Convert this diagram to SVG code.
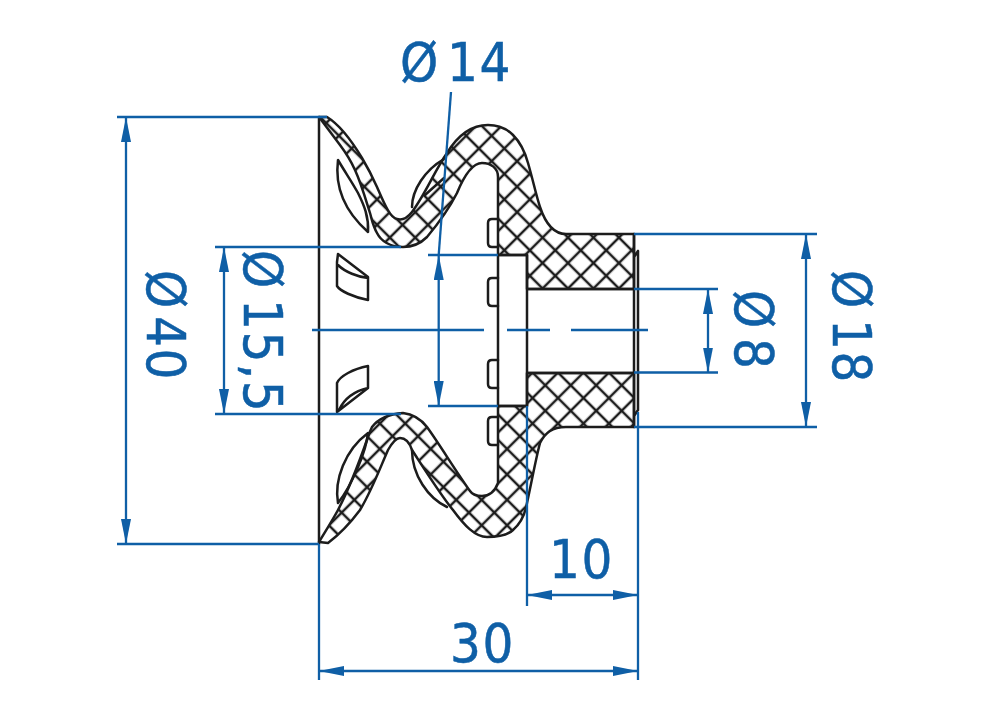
<svg xmlns="http://www.w3.org/2000/svg" width="1000" height="714" viewBox="0 0 1000 714">
<style>
.o{fill:none;stroke:#1c1c1c;stroke-width:2.5;stroke-linejoin:round;stroke-linecap:round}
.d{fill:none;stroke:#0f5fa6;stroke-width:2.300}
.a{fill:#0f5fa6;stroke:none}
.ht{fill:url(#hatch)}
.hb{fill:url(#hatch2)}
text{font-family:"DejaVu Sans Condensed","DejaVu Sans",sans-serif;font-stretch:condensed;font-size:54px;fill:#0f5fa6;stroke:#0f5fa6;stroke-width:.5;letter-spacing:1.500px}
</style>
<defs>
<pattern id="hatch" width="18" height="18" patternUnits="userSpaceOnUse" patternTransform="translate(568 250.300) rotate(45)">
<path d="M0 9H18M9 0V18" stroke="#1c1c1c" stroke-width="2.500" fill="none"/>
</pattern>
<pattern id="hatch2" width="18" height="18" patternUnits="userSpaceOnUse" patternTransform="translate(558 385.300) rotate(45)">
<path d="M0 9H18M9 0V18" stroke="#1c1c1c" stroke-width="2.500" fill="none"/>
</pattern>
<marker id="ar" viewBox="0 0 25 10" refX="25" refY="5" markerWidth="25" markerHeight="10" markerUnits="userSpaceOnUse" orient="auto-start-reverse"><path d="M0 0L25 5L0 10Z" class="a"/></marker>
</defs>
<g id="part">
<g id="part-top">
<path class="ht" d="M319 117L327 117C340 125 353 143 362 158C368 168 373 178 377 187C384 203 390 218 397 219C403 221 408 217 412 212C425 195 435 170 447 153C458 135 472 125 488 125C500 125 507 129 513 135C521 143 525 152 528 163C533 180 536 195 540 207C545 222 553 234 566 234L634 234L634 289L527 289L527 255L498 255L498 177C498 168 491 163 482 163C473 163 464 176 457 193C448 211 437 225 427 237C420 244 412 247 403 247C390 247 381 241 377 233C373 226 372 220 370 213C365 197 361 183 355 170C351 161 346 153 340 145Z"/>
<path class="o" d="M319 117L327 117C340 125 353 143 362 158C368 168 373 178 377 187C384 203 390 218 397 219C403 221 408 217 412 212C425 195 435 170 447 153C458 135 472 125 488 125C500 125 507 129 513 135C521 143 525 152 528 163C533 180 536 195 540 207C545 222 553 234 566 234L634 234L634 289L527 289L527 255L498 255L498 177C498 168 491 163 482 163C473 163 464 176 457 193C448 211 437 225 427 237C420 244 412 247 403 247C390 247 381 241 377 233C373 226 372 220 370 213C365 197 361 183 355 170C351 161 346 153 340 145Z"/>
<path class="o" d="M338 160C335 184 342 209 368 232C369 217 364 205 358 193C352 182 345 172 338 160Z"/>
<path class="o" d="M412 207C412 190 425 170 444 159M425 195L444 178"/>
<path class="o" d="M338 254L368 277L368 300C353 297 340 291 337 286L337 262ZM338 265C345 272 358 277 368 278"/>
<path class="o" d="M498 219H492C489 219 488 221 488 223V243C488 245 489 247 492 247H498M498 278H492C489 278 488 280 488 282V302C488 304 489 306 492 306H498"/>
</g>
<g id="part-bottom">
<path class="hb" d="M319 542L328 543C340 534 351 522 360 510C372 490 380 468 388 450C392 443 396 438 400 438C405 438 409 441 412 450C425 470 440 494 453 510C464 525 475 537 487 537C500 537 508 535 513 530C520 524 525 515 527 503C532 480 536 458 540 443C545 433 552 427 566 427L634 427L634 373L527 373L527 406L498 406L498 483C495 491 490 496 482 496C476 496 472 494 470 491C455 470 440 445 427 427C420 418 412 414 403 413C390 414 378 419 372 427C370 431 369 434 368 437C360 460 349 489 338 510C332 521 325 532 319 542Z"/>
<path class="o" d="M319 542L328 543C340 534 351 522 360 510C372 490 380 468 388 450C392 443 396 438 400 438C405 438 409 441 412 450C425 470 440 494 453 510C464 525 475 537 487 537C500 537 508 535 513 530C520 524 525 515 527 503C532 480 536 458 540 443C545 433 552 427 566 427L634 427L634 373L527 373L527 406L498 406L498 483C495 491 490 496 482 496C476 496 472 494 470 491C455 470 440 445 427 427C420 418 412 414 403 413C390 414 378 419 372 427C370 431 369 434 368 437C360 460 349 489 338 510C332 521 325 532 319 542Z"/>
<path class="o" d="M338 503C334 480 345 450 368 433C366 452 352 485 338 503Z"/>
<path class="o" d="M412 450C412 475 428 498 447 507"/>
<path class="o" d="M337 412L368 388L368 366C353 369 340 376 337 383ZM339 410C345 397 355 391 368 388"/>
<path class="o" d="M498 360H492C489 360 488 362 488 364V384C488 386 489 388 492 388H498M498 417H492C489 417 488 419 488 421V441C488 443 489 445 492 445H498"/>
</g>
<g id="part-lines">
<path class="o" d="M319 117V544M498 255V406M527 255V406M498 255H527M498 406H527M527 289H634M527 373H634M634 234V427M638 251V410M634 257L638 251M634 416L638 410"/>
</g>
</g>
<g id="connectors">
<path class="d" d="M117 117H327M117 544H319"/>
<path class="d" d="M126 117V544" marker-start="url(#ar)" marker-end="url(#ar)"/>
<path class="d" d="M215 247H401M215 414H401"/>
<path class="d" d="M224 247V414" marker-start="url(#ar)" marker-end="url(#ar)"/>
<path class="d" d="M428 255H498M428 406H498"/>
<path class="d" d="M451 92L438.700 255"/>
<path class="d" d="M438.700 255V406" marker-start="url(#ar)" marker-end="url(#ar)"/>
<path class="d" d="M312 330H484M507 330H550M571 330H648"/>
<path class="d" d="M634 289H718M634 372.500H718"/>
<path class="d" d="M708 289V372.500" marker-start="url(#ar)" marker-end="url(#ar)"/>
<path class="d" d="M634 234H817M634 427H817"/>
<path class="d" d="M806 234V427" marker-start="url(#ar)" marker-end="url(#ar)"/>
<path class="d" d="M527 406V606M638 412V680M319 544V680"/>
<path class="d" d="M527 595H638" marker-start="url(#ar)" marker-end="url(#ar)"/>
<path class="d" d="M319 671H638" marker-start="url(#ar)" marker-end="url(#ar)"/>
</g>
<g id="labels">
<text x="400" y="81">Ø<tspan x="447">14</tspan></text>
<text x="549" y="578">10</text>
<text x="450" y="662">30</text>
<text transform="translate(147 270) rotate(90)">Ø<tspan x="46">40</tspan></text>
<text transform="translate(244 250) rotate(90)">Ø<tspan x="49">15,5</tspan></text>
<text transform="translate(735 290) rotate(90)">Ø<tspan x="48">8</tspan></text>
<text transform="translate(833 270) rotate(90)">Ø<tspan x="49">18</tspan></text>
</g>
</svg>
